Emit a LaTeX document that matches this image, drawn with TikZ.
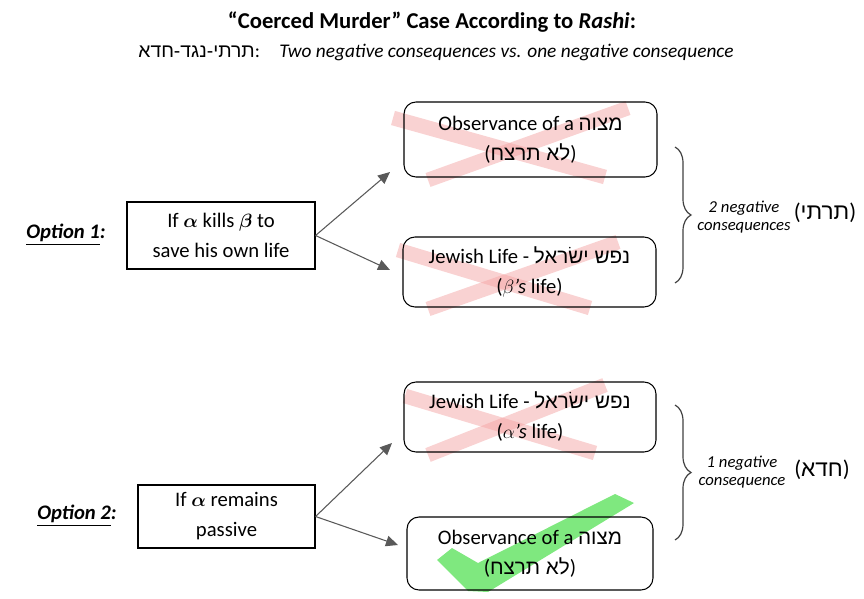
\documentclass[tikz,border=0pt]{standalone}
\usepackage{fontspec}
\usepackage{amsmath}
\setmainfont{Carlito}
\newfontfamily\hebfont[Script=Hebrew]{Liberation Sans}
\TeXXeTstate=1
\usetikzlibrary{arrows.meta,decorations.pathreplacing}
\newcommand{\heb}[1]{{\hebfont\beginR #1\endR}}
\definecolor{arrgray}{RGB}{89,89,89}
\definecolor{xpink}{RGB}{244,165,165}
\definecolor{okgreen}{RGB}{105,228,105}
\tikzset{
  optbox/.style={draw=black, line width=0.8pt, align=center, inner sep=0pt,
    font=\fontsize{15.5}{22.5}\selectfont},
  outbox/.style={optbox, rounded corners=9pt},
  optlabel/.style={font=\fontsize{15.5}{18}\selectfont\bfseries\itshape},
  conslabel/.style={align=center, font=\fontsize{12.5}{13.5}\selectfont\itshape},
  heblabel/.style={font=\fontsize{17}{19}\selectfont},
  arr/.style={draw=arrgray, line width=0.8pt, -{Triangle[length=9pt,width=8pt]}},
  brc/.style={draw=black!75, line width=0.9pt, decorate,
    decoration={brace, amplitude=12pt}},
  xband/.style={draw=xpink, line width=11pt, opacity=0.5},
  okmark/.style={fill=okgreen, draw=none, opacity=0.85},
}
\begin{document}
\begin{tikzpicture}[x=0.75pt,y=-0.75pt]
\useasboundingbox (0,0) rectangle (864,599);
% title
\node (title) at (432,22) {\fontsize{17}{19}\selectfont\bfseries “Coerced Murder” Case According to \textit{Rashi}:};
\node (sub) at (436,52) {\fontsize{14.5}{16}\selectfont\heb{תרתי-נגד-חדא}:\quad\textit{Two negative consequences vs. one negative consequence}};
% crosses and check, under the boxes
\draw[xband] (393,118) -- (605,177);
\draw[xband] (628,108) -- (428,180);
\draw[xband] (398,250) -- (590,308);
\draw[xband] (618,242) -- (428,309);
\draw[xband] (405,396) -- (595,453);
\draw[xband] (605,385) -- (428,455);
\fill[okmark] (437,560) -- (452,548) -- (478,563) -- (615,494) -- (634,503) -- (488,592) -- (468,591) -- cycle;
% option 1
\node[optlabel] (lab1) at (66,235) {\underline{Option 1}:};
\node[optbox, minimum width=141pt, minimum height=50.25pt] (optA) at (221,235.5)
  {If $\boldsymbol{\alpha}$ kills $\boldsymbol{\beta}$ to\\save his own life};
\node[outbox, minimum width=189.75pt, minimum height=56.25pt] (obs1) at (530.5,139.5)
  {Observance of a \heb{מצוה}\\(\heb{לא תרצח})};
\node[outbox, minimum width=189.75pt, minimum height=52.5pt] (life1) at (529.5,272)
  {Jewish Life - \heb{נפש ישׂראל}\\($\beta$\textit{’s} life)};
\coordinate (a1) at (390,172);
\coordinate (a2) at (390,270);
\draw[arr] (optA.east) -- (a1);
\draw[arr] (optA.east) -- (a2);
\coordinate (b1t) at (675,147);
\coordinate (b1b) at (675,283);
\draw[brc] (b1t) -- (b1b);
\node[conslabel] (cons1) at (744,217) {2 negative\\consequences};
\node[heblabel] (heb1) at (825,213) {(\heb{תרתי})};
% option 2
\node[optlabel] (lab2) at (77,516) {\underline{Option 2}:};
\node[optbox, minimum width=132.75pt, minimum height=47.25pt] (optB) at (226.5,516.5)
  {If $\boldsymbol{\alpha}$ remains\\passive};
\node[outbox, minimum width=189pt, minimum height=52.5pt] (life2) at (530,417)
  {Jewish Life - \heb{נפש ישׂראל}\\($\alpha$\textit{’s} life)};
\node[outbox, minimum width=184.5pt, minimum height=54.75pt] (obs2) at (530,553.5)
  {Observance of a \heb{מצוה}\\(\heb{לא תרצח})};
\coordinate (a3) at (392,443);
\coordinate (a4) at (398,545);
\draw[arr] (optB.east) -- (a3);
\draw[arr] (optB.east) -- (a4);
\coordinate (b2t) at (675,405);
\coordinate (b2b) at (675,540);
\draw[brc] (b2t) -- (b2b);
\node[conslabel] (cons2) at (742,472) {1 negative\\consequence};
\node[heblabel] (heb2) at (822,470) {(\heb{חדא})};
\end{tikzpicture}
\end{document}
